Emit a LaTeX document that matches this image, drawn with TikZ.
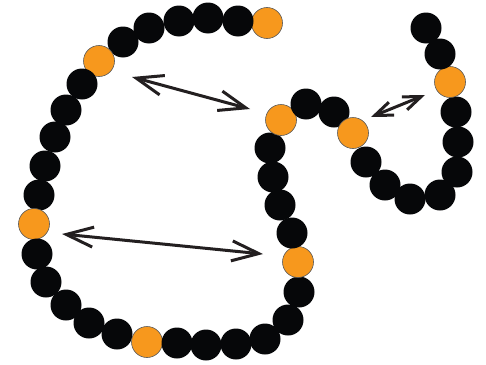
\documentclass[tikz,border=0pt]{standalone}
\usetikzlibrary{arrows.meta}
\definecolor{beadblack}{HTML}{060709}
\definecolor{beadorange}{HTML}{F7981D}
\definecolor{arrowgray}{HTML}{231F20}
\begin{document}
\begin{tikzpicture}[x=1pt,y=-1pt,
  bead/.style={circle,inner sep=0pt,minimum size=31pt,fill=beadblack},
  obead/.style={bead,fill=beadorange,draw=black!65,line width=0.6pt},
  bigtip/.tip={Straight Barb[length=27pt,width=20pt]},
  smalltip/.tip={Straight Barb[length=18pt,width=14pt]},
  dbl/.style={line width=3pt,draw=arrowgray}]
\useasboundingbox (0,0) rectangle (486,364);
\foreach \x/\y/\s [count=\i] in {
  267/23/obead, 238/21/bead, 208/18/bead, 179/21/bead, 149/28/bead, 123/42/bead,
  99/61/obead, 82/84/bead, 66/110/bead, 55/137/bead, 45/166/bead, 39/195/bead,
  34/224/obead, 37/254/bead, 46/282/bead, 66/305/bead, 89/323/bead, 117/334/bead,
  147/342/obead, 177/343/bead, 206/345/bead, 236/344/bead, 265/339/bead, 288/320/bead,
  299/292/bead, 298/262/obead, 292/233/bead, 280/205/bead, 273/177/bead, 270/148/bead,
  281/120/obead, 306/104/bead, 334/112/bead, 353/133/obead, 366/162/bead, 385/185/bead,
  410/199/bead, 440/195/bead, 457/172/bead, 458/142/bead, 456/112/bead, 450/82/obead,
  440/54/bead, 426/28/bead}
  \node[\s] (b\i) at (\x,\y) {};
\coordinate (a1s) at (132,77);
\coordinate (a1e) at (250,109);
\coordinate (a2s) at (62,234);
\coordinate (a2e) at (263,254);
\coordinate (a3s) at (371,117);
\coordinate (a3e) at (425,95);
\draw[dbl,{bigtip}-{bigtip}] (a1s) -- (a1e);
\draw[dbl,{bigtip}-{bigtip}] (a2s) -- (a2e);
\draw[dbl,{smalltip}-{smalltip}] (a3s) -- (a3e);
\end{tikzpicture}
\end{document}
